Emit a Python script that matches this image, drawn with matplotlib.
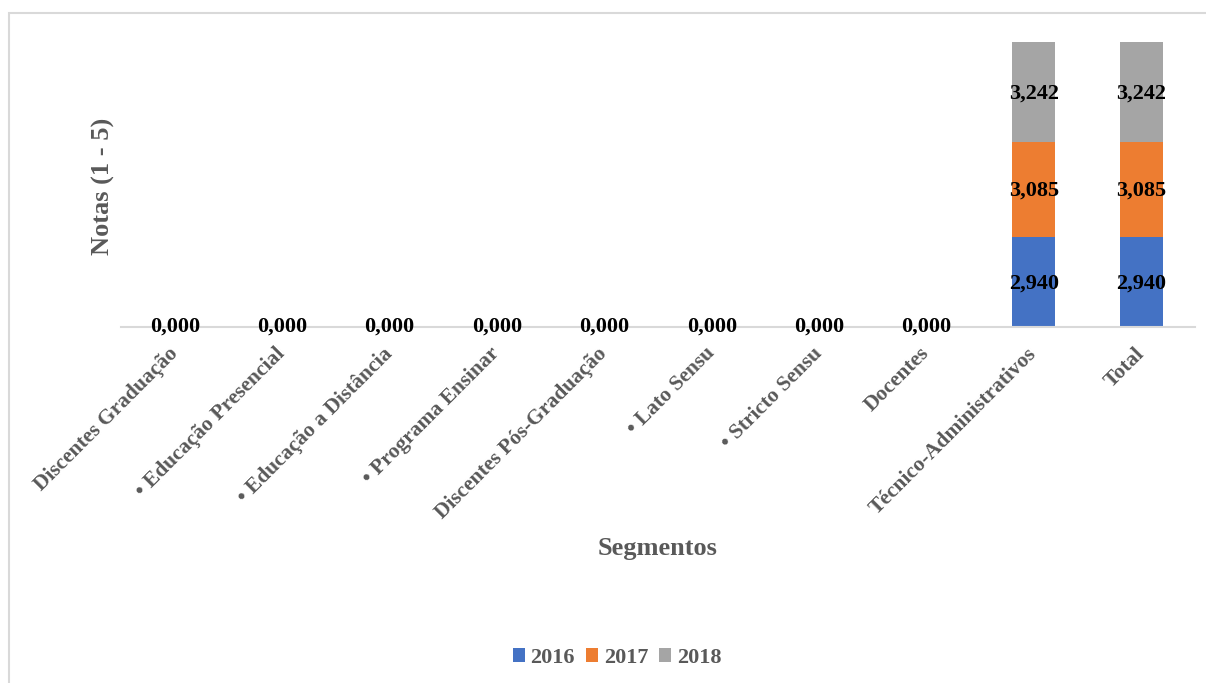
import matplotlib
matplotlib.use("Agg")
import matplotlib.pyplot as plt
from matplotlib.patches import Rectangle
import numpy as np

categories = ["Discentes Graduação", "• Educação Presencial", "• Educação a Distância",
              "• Programa Ensinar", "Discentes Pós-Graduação", "• Lato Sensu",
              "• Stricto Sensu", "Docentes", "Técnico-Administrativos", "Total"]
years = ["2016", "2017", "2018"]
v2016 = [0, 0, 0, 0, 0, 0, 0, 0, 2.940, 2.940]
v2017 = [0, 0, 0, 0, 0, 0, 0, 0, 3.085, 3.085]
v2018 = [0, 0, 0, 0, 0, 0, 0, 0, 3.242, 3.242]
colors = ["#4472C4", "#ED7D31", "#A5A5A5"]

plt.rcParams['font.family'] = ['Liberation Serif', 'DejaVu Serif']
W, H = 1206, 683
fig = plt.figure(figsize=(W/100, H/100), dpi=100)
fig.patches.append(Rectangle((9/W, -0.1), 1.2, (H-13)/H + 0.1, transform=fig.transFigure,
                             fill=False, edgecolor="#D9D9D9", linewidth=1.5))

ax = fig.add_axes([121/W, 1 - 327/H, (1195-121)/W, (327-19.5)/H])
x = np.arange(len(categories))
series = [v2016, v2017, v2018]
bottom = np.zeros(len(categories))
for vals, c, yr in zip(series, colors, years):
    vals = np.array(vals)
    ax.bar(x, vals, width=0.4, bottom=bottom, color=c, label=yr, zorder=2)
    for xi, v, b in zip(x, vals, bottom):
        if v > 0:
            ax.text(xi, b + v/2 - 0.06, f"{v:.3f}".replace(".", ","), ha="center", va="center",
                    fontsize=16, fontweight="bold", color="black", zorder=3)
    bottom += vals
for xi, tot in zip(x, bottom):
    if tot == 0:
        ax.text(xi, 0, "0,000", ha="center", va="center", fontsize=16,
                fontweight="bold", color="black", zorder=3)

ax.set_xlim(-0.5, len(categories) - 0.5)
ax.set_ylim(0, 10)
for s in ["top", "right", "left"]:
    ax.spines[s].set_visible(False)
ax.spines["bottom"].set_color("#D9D9D9")
ax.spines["bottom"].set_linewidth(1.5)
ax.set_yticks([])
ax.set_xticks(x)
ax.set_xticklabels(categories, rotation=45, ha="right", va="center", rotation_mode="anchor",
                   fontsize=15.5, fontweight="bold", color="#595959")
ax.tick_params(axis="x", length=0, pad=17)

fig.text(103/W, 1 - 186/H, "Notas (1 - 5)", rotation=90, ha="center", va="center",
         fontsize=19, fontweight="bold", color="#595959")
fig.text(658/W, 1 - 548/H, "Segmentos", ha="center", va="center",
         fontsize=19, fontweight="bold", color="#595959")

handles, labels = ax.get_legend_handles_labels()
fig.legend(handles, labels, loc="center", bbox_to_anchor=(617/W, 1 - 658/H), ncol=3,
           frameon=False, prop={"weight": "bold", "size": 16}, handlelength=0.55,
           handleheight=0.55, handletextpad=0.25, columnspacing=0.5,
           labelcolor="#595959")

fig.savefig("out.png", dpi=100)
